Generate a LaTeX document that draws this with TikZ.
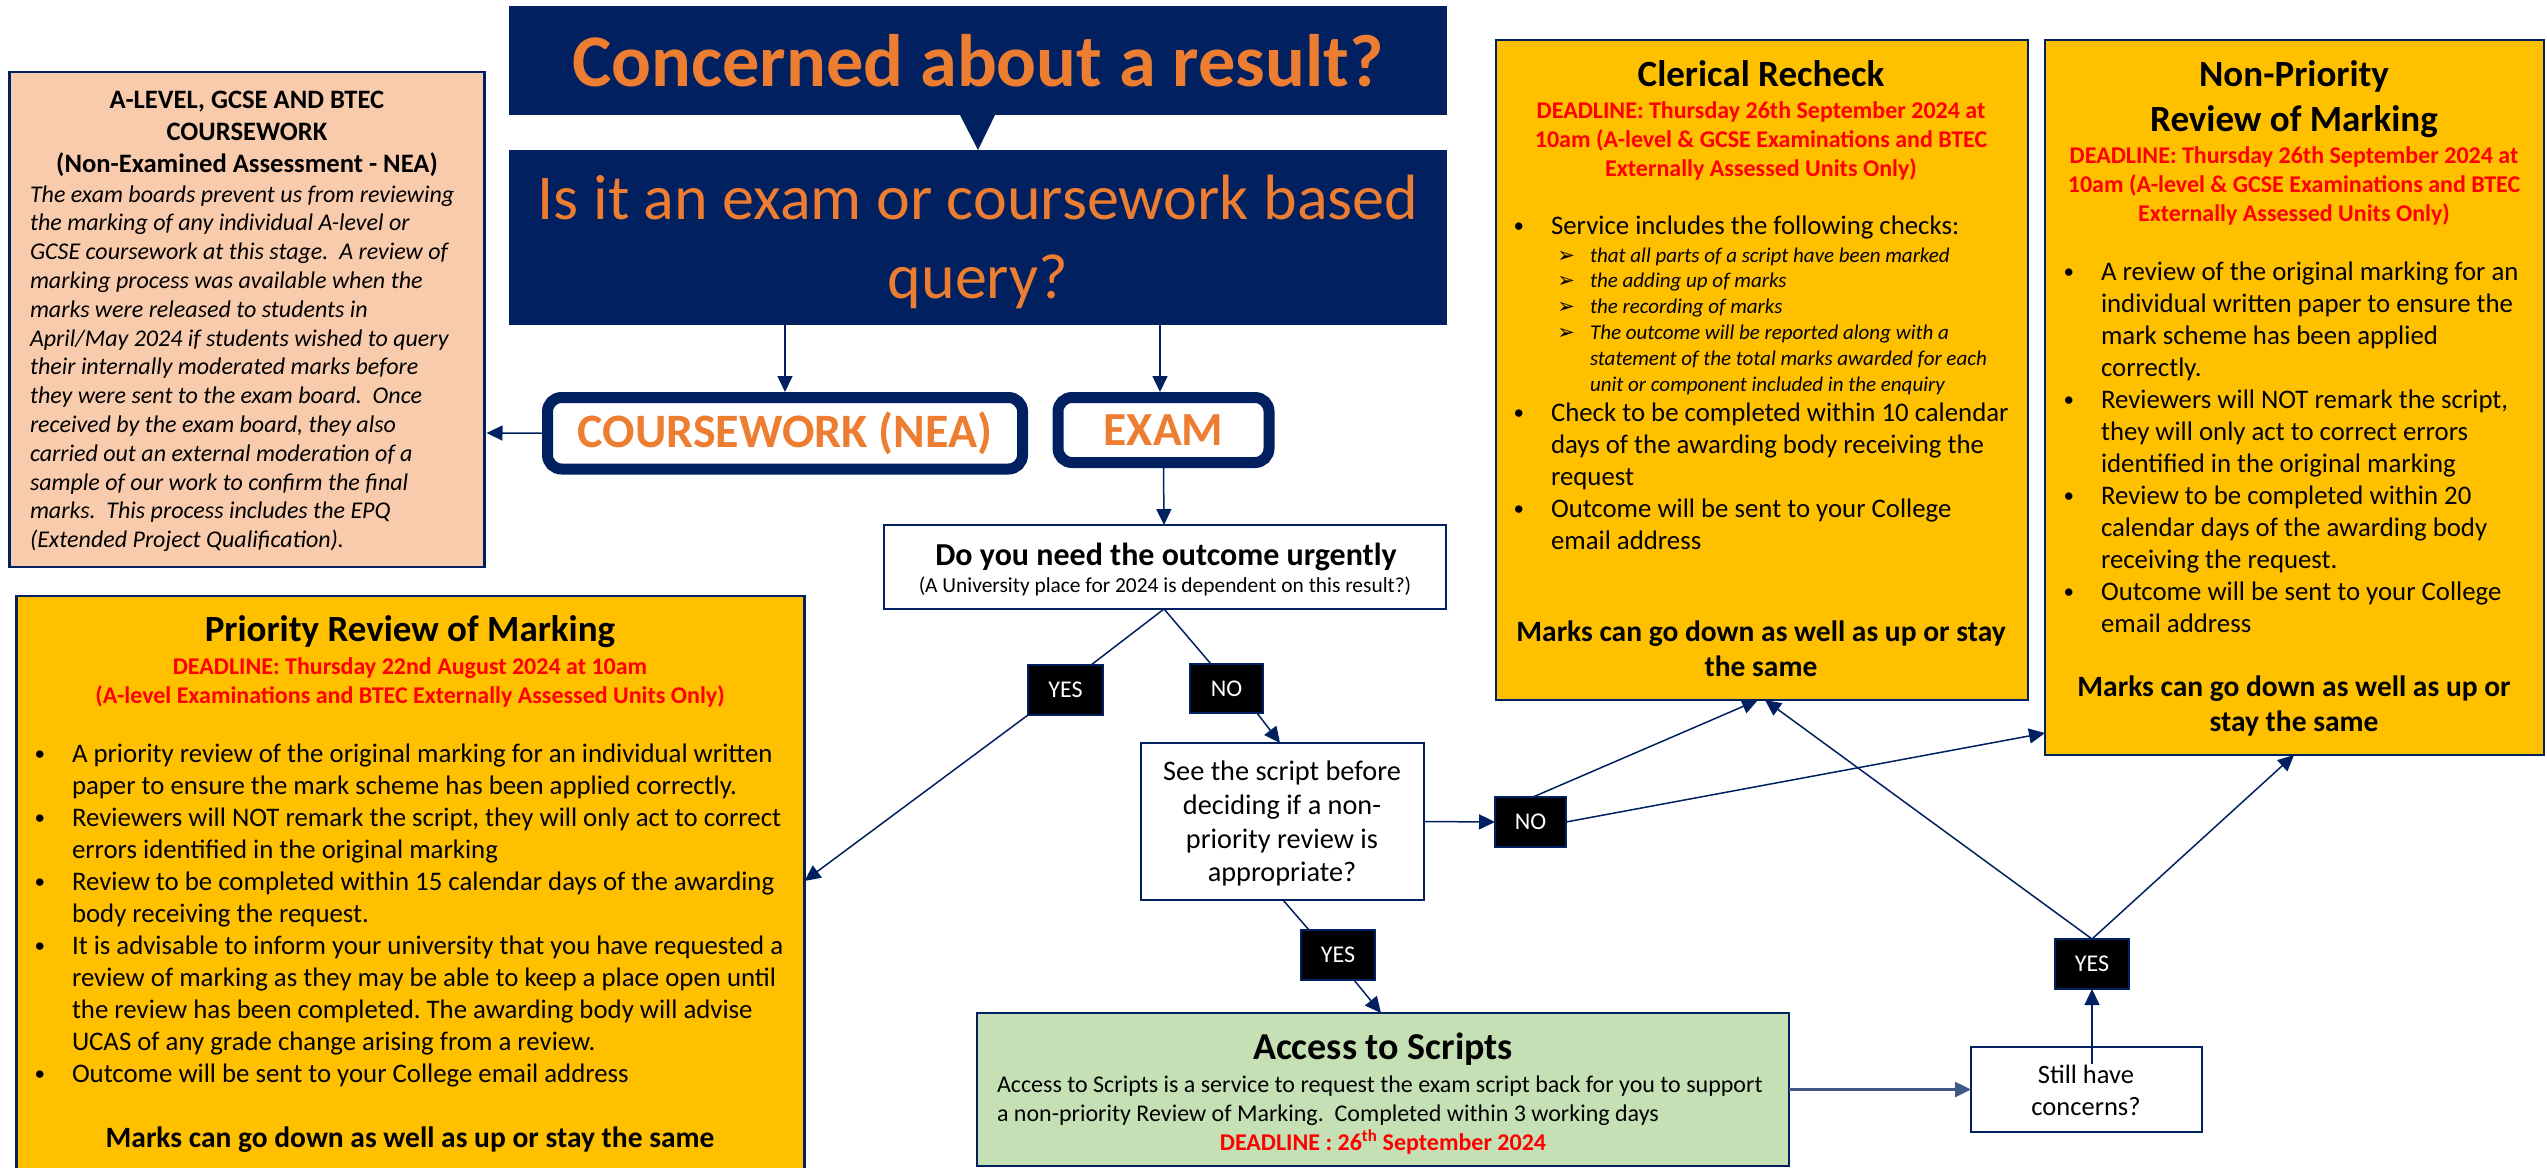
\documentclass[tikz,border=0pt]{standalone}
\usepackage{fontspec}
\setmainfont{Carlito}
\newfontfamily\dejavu{DejaVu Sans}
\usetikzlibrary{arrows.meta}
\definecolor{navy}{HTML}{002060}
\definecolor{orangeT}{HTML}{ED7D31}
\definecolor{gold}{HTML}{FFC000}
\definecolor{peach}{HTML}{F8CBAD}
\definecolor{greenB}{HTML}{C5E0B4}
\definecolor{redT}{HTML}{FF0000}
\frenchspacing
\newcommand{\fs}[2]{\fontsize{#1pt}{#2pt}\selectfont}
\newcommand{\bul}{\makebox[0pt][r]{{\fontsize{21pt}{21pt}\selectfont\raisebox{1.5pt}{•}}\hspace{27pt}}}
\newcommand{\sbul}{\makebox[0pt][r]{{\dejavu\fontsize{21pt}{21pt}\selectfont ➢}\hspace{15pt}}}
\tikzset{
  x=1pt,y=-1pt,
  box/.style={draw=navy,line width=2.5pt,anchor=north west,inner sep=0pt,outer sep=0pt},
  navybox/.style={fill=navy,anchor=north west,inner sep=0pt,outer sep=0pt},
  pill/.style={draw=navy,fill=white,line width=11pt,rounded corners=14pt,anchor=north west,inner sep=0pt,outer sep=0pt},
  tag/.style={fill=black,draw=navy,line width=2pt,text=white,anchor=north west,inner sep=0pt,outer sep=0pt,font=\fs{24}{28}},
  txt/.style={inner sep=0pt,outer sep=0pt,anchor=north,align=center},
  ltxt/.style={inner sep=0pt,outer sep=0pt,anchor=north west,align=left},
  conn/.style={draw=navy,line width=1.5pt,-{Triangle[length=16pt,width=15pt]}},
  plain/.style={draw=navy,line width=1.5pt},
}
\begin{document}
\begin{tikzpicture}
\clip (0,0) rectangle (2547,1167);
% boxes
\node[navybox,minimum width=938pt,minimum height=109pt,text=orangeT,font=\fs{74.3}{80}\bfseries] (title) at (509,6) {Concerned about a result?};
\node[navybox,minimum width=938pt,minimum height=175pt] (q) at (509,150) {};
\fill[navy] ([xshift=451pt]title.south west) -- ([xshift=469pt]q.north west) -- ([xshift=486pt]title.south west) -- cycle;
\node[pill,minimum width=475pt,minimum height=71.5pt,text=orangeT,font=\fs{48}{52}\bfseries] (cw) at (547.5,397.5) {COURSEWORK (NEA)};
\node[pill,minimum width=211pt,minimum height=65pt,text=orangeT,font=\fs{47.5}{50}\bfseries] (ex) at (1058,397.5) {EXAM};
\node[box,fill=peach,minimum width=475pt,minimum height=495pt] (nea) at (9.5,72) {};
\node[box,fill=gold,minimum width=788pt,minimum height=590pt] (prio) at (16.5,596) {};
\node[box,fill=gold,minimum width=532pt,minimum height=660pt] (cler) at (1496,40) {};
\node[box,fill=gold,minimum width=499pt,minimum height=715pt] (np) at (2045,40) {};
\node[box,fill=white,minimum width=562pt,minimum height=84pt] (urgent) at (884,525) {};
\node[box,fill=white,minimum width=283pt,minimum height=157pt] (see) at (1141,743) {};
\node[box,fill=greenB,minimum width=812pt,minimum height=153pt] (access) at (977,1013) {};
\node[box,fill=white,minimum width=231pt,minimum height=85pt] (still) at (1971,1047) {};
\node[tag,minimum width=75pt,minimum height=50pt] (yes1) at (1028,665) {YES};
\node[tag,minimum width=73pt,minimum height=49pt] (no1) at (1190,664) {NO};
\node[tag,minimum width=71pt,minimum height=50pt] (no2) at (1495,797) {NO};
\node[tag,minimum width=74pt,minimum height=50pt] (yes2) at (1301,930) {YES};
\node[tag,minimum width=74pt,minimum height=50pt] (yes3) at (2055,939) {YES};
% connectors
\draw[conn] ([xshift=276pt]q.south west) -- ([xshift=237.5pt,yshift=5.5pt]cw.north west);
\draw[conn] ([xshift=651pt]q.south west) -- ([xshift=102pt,yshift=5.5pt]ex.north west);
\draw[conn] ([xshift=-5.5pt]cw.west) -- ([xshift=2pt,yshift=-361pt]nea.north east);
\draw[conn] ([yshift=-5.5pt]ex.south) -- ([xshift=280pt]urgent.north west);
\draw[plain] ([xshift=280pt]urgent.south west) -- ([xshift=63pt]yes1.north west);
\draw[conn] (yes1.south west) -- ([yshift=-285pt]prio.north east);
\draw[plain] ([xshift=280pt]urgent.south west) -- ([xshift=21pt]no1.north west);
\draw[conn] ([xshift=67pt]no1.south west) -- ([xshift=139pt]see.north west);
\draw[conn] (see.east) -- (no2.west);
\draw[conn] ([xshift=38pt]no2.north west) -- ([xshift=262pt]cler.south west);
\draw[conn] (no2.east) -- ([yshift=22pt]np.south west);
\draw[conn] (yes3.north) -- ([xshift=269pt]cler.south west);
\draw[conn] (yes3.north) -- ([xshift=249pt]np.south west);
\draw[conn] ([xshift=121pt,yshift=-17pt]still.north west) -- (yes3.south);
\draw[conn,draw=navy!75,line width=2.5pt] (access.east) -- (still.west);
\draw[plain] ([xshift=142pt]see.south west) -- ([xshift=8pt]yes2.north west);
\draw[conn] ([xshift=53pt]yes2.south west) -- ([xshift=404pt]access.north west);
% header text
\node[txt,text=orangeT,font=\fs{64}{79}] (qt) at (978,164) {\strut Is it an exam or coursework based\\query?};
% NEA
\node[txt,font=\fs{26.6}{32}\bfseries] (neah) at (247,86) {\strut A-LEVEL, GCSE AND BTEC\\COURSEWORK\\(Non-Examined Assessment - NEA)};
\node[ltxt,font=\fs{24}{28.8}\itshape] (neab) at (30,182) {\strut The exam boards prevent us from reviewing\\the marking of any individual A-level or\\GCSE coursework at this stage.\ \ A review of\\marking process was available when the\\marks were released to students in\\April/May 2024 if students wished to query\\their internally moderated marks before\\they were sent to the exam board.\ \ Once\\received by the exam board, they also\\carried out an external moderation of a\\sample of our work to confirm the final\\marks.\ \ This process includes the EPQ\\(Extended Project Qualification).};
% urgent
\node[txt,font=\fs{32}{36}\bfseries] (ut) at (1166,540) {\strut Do you need the outcome urgently};
\node[txt,font=\fs{21.4}{24}] (us) at (1165,576) {\strut (A University place for 2024 is dependent on this result?)};
% see
\node[txt,font=\fs{28.3}{33.7}] (st) at (1282,757) {\strut See the script before\\deciding if a non-\\priority review is\\appropriate?};
% still
\node[txt,font=\fs{26.5}{32}] (sc) at (2086,1061) {\strut Still have\\concerns?};
% access
\node[txt,font=\fs{38}{44}\bfseries] (at) at (1383,1029) {\strut Access to Scripts};
\node[ltxt,font=\fs{24}{29}] (ab) at (997,1072) {\strut Access to Scripts is a service to request the exam script back for you to support\\a non-priority Review of Marking.\ \ Completed within 3 working days};
\node[txt,text=redT,font=\fs{24}{29}\bfseries] (ad) at (1383,1130) {\strut DEADLINE : 26\textsuperscript{th} September 2024};
% priority
\node[txt,font=\fs{37}{44}\bfseries] (pt) at (410,611) {\strut Priority Review of Marking};
\node[txt,text=redT,font=\fs{24}{29}\bfseries] (pd) at (410,654) {\strut DEADLINE: Thursday 22nd August 2024 at 10am\\(A-level Examinations and BTEC Externally Assessed Units Only)};
\node[ltxt,font=\fs{26.8}{32}] (pb) at (72,740) {\strut\bul A priority review of the original marking for an individual written\\paper to ensure the mark scheme has been applied correctly.\\\bul Reviewers will NOT remark the script, they will only act to correct\\errors identified in the original marking\\\bul Review to be completed within 15 calendar days of the awarding\\body receiving the request.\\\bul It is advisable to inform your university that you have requested a\\review of marking as they may be able to keep a place open until\\the review has been completed. The awarding body will advise\\UCAS of any grade change arising from a review.\\\bul Outcome will be sent to your College email address};
\node[txt,font=\fs{29.5}{35}\bfseries] (pm) at (410,1123) {\strut Marks can go down as well as up or stay the same};
% clerical
\node[txt,font=\fs{37}{45}\bfseries] (ct) at (1761,55) {\strut Clerical Recheck};
\node[txt,text=redT,font=\fs{24}{29}\bfseries] (cd) at (1761,98) {\strut DEADLINE: Thursday 26th September 2024 at\\10am (A-level \& GCSE Examinations and BTEC\\Externally Assessed Units Only)};
\node[ltxt,font=\fs{26.8}{32}] (cb1) at (1551,212) {\strut\bul Service includes the following checks:};
\node[ltxt,font=\fs{21}{25.8}\itshape] (cb2) at (1590,244) {\strut\sbul that all parts of a script have been marked\\\sbul the adding up of marks\\\sbul the recording of marks\\\sbul The outcome will be reported along with a\\statement of the total marks awarded for each\\unit or component included in the enquiry};
\node[ltxt,font=\fs{26.8}{32}] (cb3) at (1551,399) {\strut\bul Check to be completed within 10 calendar\\days of the awarding body receiving the\\request\\\bul Outcome will be sent to your College\\email address};
\node[txt,font=\fs{29.5}{35}\bfseries] (cm) at (1761,617) {\strut Marks can go down as well as up or stay\\the same};
% non priority
\node[txt,font=\fs{37}{45}\bfseries] (nt) at (2294,55) {\strut Non-Priority\\Review of Marking};
\node[txt,text=redT,font=\fs{24}{29}\bfseries] (nd) at (2294,143) {\strut DEADLINE: Thursday 26th September 2024 at\\10am (A-level \& GCSE Examinations and BTEC\\Externally Assessed Units Only)};
\node[ltxt,font=\fs{26.8}{32}] (nb) at (2101,258) {\strut\bul A review of the original marking for an\\individual written paper to ensure the\\mark scheme has been applied\\correctly.\\\bul Reviewers will NOT remark the script,\\they will only act to correct errors\\identified in the original marking\\\bul Review to be completed within 20\\calendar days of the awarding body\\receiving the request.\\\bul Outcome will be sent to your College\\email address};
\node[txt,font=\fs{29.5}{35}\bfseries] (nm) at (2294,672) {\strut Marks can go down as well as up or\\stay the same};
\end{tikzpicture}
\end{document}
